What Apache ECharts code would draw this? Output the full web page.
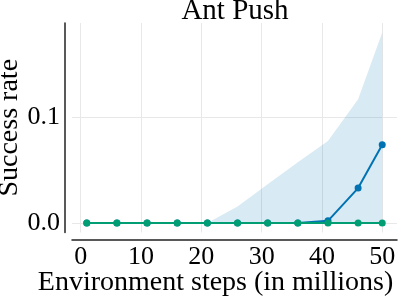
<!DOCTYPE html>
<html>
<head>
<meta charset="utf-8">
<script src="https://cdn.jsdelivr.net/npm/echarts@6/dist/echarts.min.js"></script>
<style>html,body{margin:0;padding:0;background:#fff}#c{width:399px;height:297px}</style>
</head>
<body>
<div id="c"></div>
<script>
// Data
var steps = [1, 6, 11, 16, 21, 26, 31, 36, 41, 46, 50];
var blueMean = [0, 0, 0, 0, 0, 0, 0, 0, 0.002, 0.033, 0.074];
var blueUpper = [0, 0, 0, 0, 0, 0.0155, 0.0365, 0.0573, 0.0774, 0.117, 0.180];
var greenMean = [0, 0, 0, 0, 0, 0, 0, 0, 0, 0, 0];
var xTicks = [0, 10, 20, 30, 40, 50];
var yTicks = [0.0, 0.1];
var titleText = 'Ant Push';
var xLabel = 'Environment steps (in millions)';
var yLabel = 'Success rate';

function pairs(xs, ys) { return xs.map(function (x, i) { return [x, ys[i]]; }); }
function isTick(list, v) { return list.some(function (t) { return Math.abs(t - v) < 1e-9; }); }

var FONT = '"Liberation Serif", serif';
var chart = echarts.init(document.getElementById('c'), null, { renderer: 'canvas' });
chart.setOption({
  animation: false,
  backgroundColor: '#fff',
  title: {
    text: titleText, left: 235, top: -3, padding: 0, textAlign: 'center',
    textStyle: { fontFamily: FONT, fontSize: 29, fontWeight: 'normal', color: '#000' }
  },
  grid: { left: 72, right: 2, top: 23, bottom: 64.5, containLabel: false, outerBoundsMode: 'none' },
  xAxis: {
    type: 'value', min: -1.45, max: 52.45, splitNumber: 5, offset: 7.5,
    name: xLabel, nameLocation: 'middle', nameGap: 29, nameMoveOverlap: false,
    nameTextStyle: { fontFamily: FONT, fontSize: 28, color: '#000', padding: [0, 38, 0, 0] },
    axisLine: { show: true, onZero: false, lineStyle: { color: '#222', width: 1.5 } },
    axisTick: { show: false },
    axisLabel: {
      showMinLabel: false, showMaxLabel: false, fontFamily: FONT, fontSize: 26, color: '#000', margin: 4,
      formatter: function (v) { return isTick(xTicks, v) ? String(v) : ''; }
    },
    splitLine: { show: true, showMinLine: false, showMaxLine: false, lineStyle: { color: '#e8e8e8', width: 1 } }
  },
  yAxis: {
    type: 'value', min: -0.009, max: 0.189, splitNumber: 2, offset: 7,
    name: yLabel, nameLocation: 'middle', nameGap: 41, nameMoveOverlap: false,
    nameTextStyle: { fontFamily: FONT, fontSize: 28, color: '#000' },
    axisLine: { show: true, onZero: false, lineStyle: { color: '#222', width: 1.5 } },
    axisTick: { show: false },
    axisLabel: {
      showMinLabel: false, showMaxLabel: false, fontFamily: FONT, fontSize: 26, color: '#000', margin: 5,
      formatter: function (v) { return isTick(yTicks, v) ? v.toFixed(1) : ''; }
    },
    splitLine: { show: true, showMinLine: false, showMaxLine: false, lineStyle: { color: '#e8e8e8', width: 1 } }
  },
  series: [
    {
      type: 'line', data: pairs(steps, blueUpper), symbol: 'none',
      lineStyle: { width: 0 }, areaStyle: { color: 'rgba(1,115,178,0.22)', origin: 0 }, z: 1, silent: true
    },
    {
      type: 'line', data: pairs(steps, blueMean), symbol: 'circle', symbolSize: 7,
      itemStyle: { color: '#0173b2' }, lineStyle: { color: '#0173b2', width: 2 }, z: 2
    },
    {
      type: 'line', data: pairs(steps, greenMean), symbol: 'circle', symbolSize: 7,
      itemStyle: { color: '#029e73' }, lineStyle: { color: '#029e73', width: 2 }, z: 3
    }
  ]
});
</script>
</body>
</html>
